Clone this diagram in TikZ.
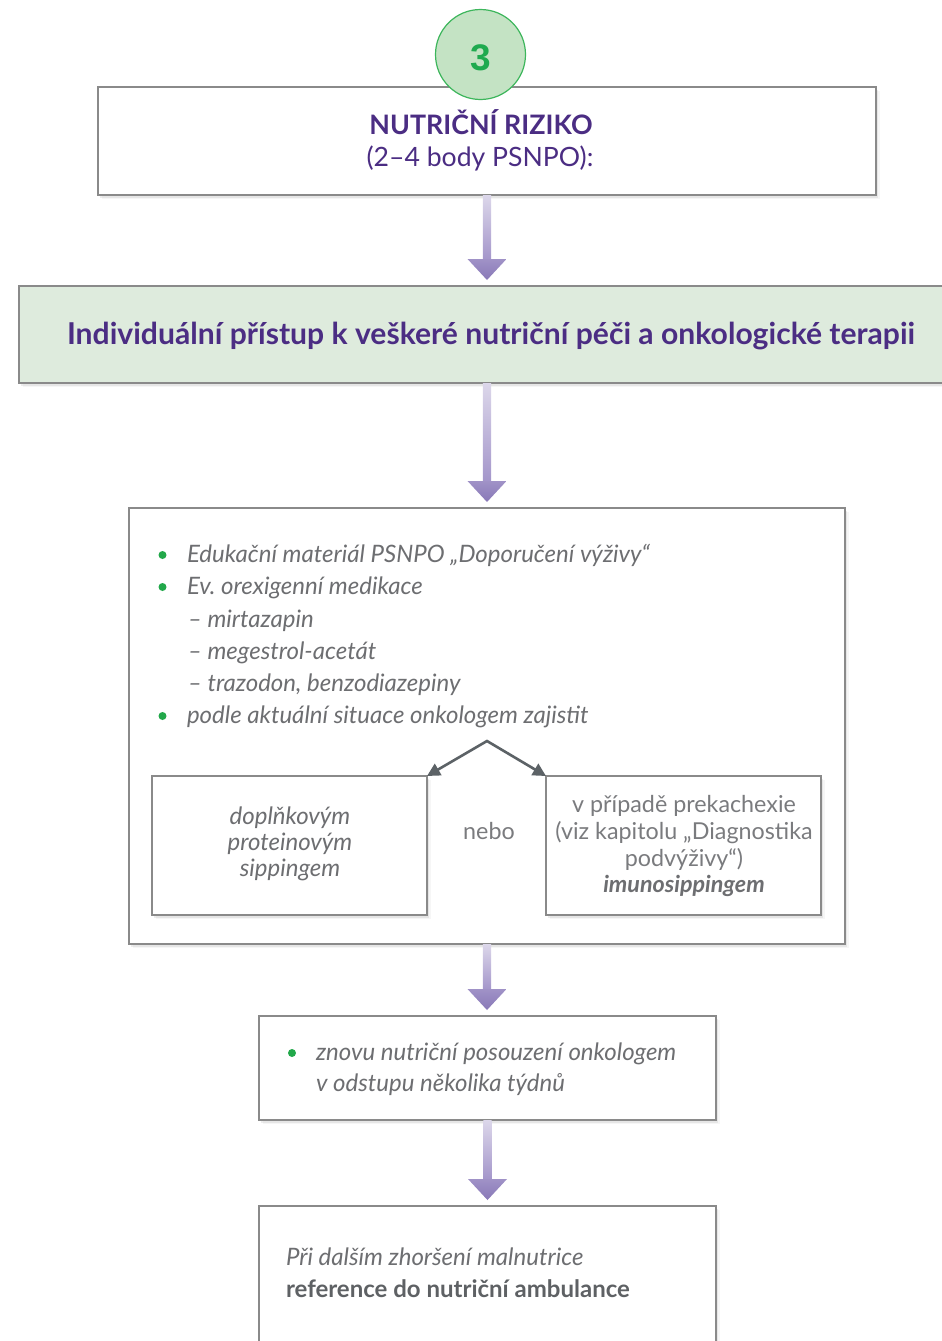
\documentclass[tikz,border=0pt]{standalone}
\usepackage{fontspec}
\setmainfont{Lato}
\newfontfamily\digitfont{Liberation Sans}
\usetikzlibrary{shadows,arrows.meta,calc}
\frenchspacing

\definecolor{pfpurple}{HTML}{4B2D83}
\definecolor{pfgray}{HTML}{6D6E71}
\definecolor{pflight}{HTML}{7A7B7E}
\definecolor{pfdark}{HTML}{5E6164}
\definecolor{pfframe}{HTML}{8A8A8A}
\definecolor{pfmint}{HTML}{DEEBDD}
\definecolor{pfgreen}{HTML}{1FAA4F}
\definecolor{pfdisc}{HTML}{C4E3C4}
\definecolor{pfring}{HTML}{3DB65C}
\definecolor{pfdot}{HTML}{22A84A}
\definecolor{arrtop}{HTML}{DCD7EA}
\definecolor{arrbot}{HTML}{A395CA}
\definecolor{headtop}{HTML}{A092C7}
\definecolor{headbot}{HTML}{8878B7}
\definecolor{forkgray}{HTML}{5C6266}

\newcommand\pfsize[2]{\fontsize{#1pt}{#2pt}\selectfont}

% thick shaded down arrow from one node border to the next
\newcommand\flowarrow[2]{%
  \path[shade, top color=arrtop, bottom color=arrbot]
    let \p1=(#1), \p2=(#2) in (\x1-4.2pt,\y1) rectangle (\x1+4.2pt,\y2+26pt);
  \path[shade, top color=headtop, bottom color=headbot]
    let \p1=(#1), \p2=(#2) in
    (\x1-19.5pt,\y2+27pt) -- (\x1+19.5pt,\y2+27pt) -- (\x1,\y2+6pt) -- cycle;
}

\tikzset{
  softshadow/.style={
    drop shadow={shadow xshift=2pt, shadow yshift=-2.5pt, opacity=.14},
    drop shadow={shadow xshift=3.5pt, shadow yshift=-4pt, opacity=.07}},
  box/.style={draw=pfframe, line width=1.2pt, fill=white, inner sep=0pt,
    outer sep=0pt, softshadow},
  txt/.style={inner sep=0pt, outer sep=0pt, text=pfgray,
    font=\pfsize{24}{28}\itshape, anchor=base west},
  ctxt/.style={txt, anchor=base},
  lite/.style={ctxt, font=\pfsize{23.3}{28}, text=pflight},
  dot/.style={circle, fill=pfdot, minimum size=8pt, inner sep=0pt},
  forkline/.style={draw=forkgray, line width=2.6pt, line join=miter,
    {Triangle[length=13pt,width=13pt]}-{Triangle[length=13pt,width=13pt]}}
}

\begin{document}
\begin{tikzpicture}[x=1pt,y=-1pt]
\useasboundingbox (0,0) rectangle (942,1341);

% header box with the step badge
\node[box, minimum width=778pt, minimum height=108pt] (b1) at (487,141) {};
\node[inner sep=0pt, font=\pfsize{26.8}{30}\bfseries, text=pfpurple, anchor=base]
  (t1a) at (481,134) {NUTRIČNÍ RIZIKO};
\node[inner sep=0pt, font=\pfsize{26.6}{30}, text=pfpurple, anchor=base]
  (t1b) at (480,166) {(2–4 body PSNPO):};
\node[circle, draw=pfring, line width=1.2pt, fill=pfdisc, minimum size=90pt,
  inner sep=0pt] (badge) at (480.5,54.5) {};
\node[inner sep=0pt, font=\digitfont\pfsize{37}{40}\bfseries, text=pfgreen,
  anchor=base] (num) at (480.5,70) {3};

% green banner
\node[box, fill=pfmint, minimum width=941pt, minimum height=97pt] (g) at (489.5,334.5) {};
\node[inner sep=0pt, font=\pfsize{30.1}{34}\bfseries, text=pfpurple, anchor=base]
  (gt) at (491,344) {Individuální přístup k veškeré nutriční péči a onkologické terapii};

% main recommendation box
\node[box, minimum width=716pt, minimum height=436pt] (b3) at (487,726) {};
\node[dot] (d1) at (162.5,555) {};
\node[txt] (l1) at (187,562) {Edukační materiál PSNPO „Doporučení výživy“};
\node[dot] (d2) at (162.5,587) {};
\node[txt] (l2) at (187,594) {Ev. orexigenní medikace};
\node[txt] (l3) at (188,627) {– mirtazapin};
\node[txt] (l4) at (188,659) {– megestrol-acetát};
\node[txt] (l5) at (188,691) {– trazodon, benzodiazepiny};
\node[dot] (d3) at (162.5,716) {};
\node[txt] (l6) at (187,723) {podle aktuální situace onkologem zajistit};

% the two alternatives
\node[box, minimum width=275pt, minimum height=139pt] (lb) at (289.5,845.5) {};
\node[box, minimum width=275pt, minimum height=139pt] (rb) at (683.5,845.5) {};
\node[ctxt] (lt1) at (290,824) {doplňkovým};
\node[ctxt] (lt2) at (290,850) {proteinovým};
\node[ctxt] (lt3) at (290,876) {sippingem};
\node[lite] (nebo) at (489,839) {nebo};
\node[lite] (rt1) at (684,812) {v případě prekachexie};
\node[lite] (rt2) at (684,839) {(viz kapitolu „Diagnostika};
\node[lite] (rt3) at (684,866) {podvýživy“)};
\node[ctxt, font=\pfsize{23.3}{28}\bfseries\itshape] (rt4) at (684,892) {imunosippingem};
\coordinate (fork) at (487,741);
\draw[forkline] (lb.north east) -- (fork) -- (rb.north west);

% follow-up box
\node[box, minimum width=457pt, minimum height=104pt] (b4) at (487.5,1068) {};
\node[dot] (d4) at (292,1053) {};
\node[txt] (f1) at (316,1060) {znovu nutriční posouzení onkologem};
\node[txt] (f2) at (316,1091) {v odstupu několika týdnů};

% referral box
\node[box, minimum width=457pt, minimum height=174pt] (b5) at (487.5,1293) {};
\node[txt] (r1) at (286,1265) {Při dalším zhoršení malnutrice};
\node[txt, font=\pfsize{24}{28}\bfseries, text=pfdark] (r2) at (286,1297) {reference do nutriční ambulance};

% flow arrows
\flowarrow{b1.south}{g.north -| b1.south}
\flowarrow{g.south -| b1.south}{b3.north}
\flowarrow{b3.south}{b4.north}
\flowarrow{b4.south}{b5.north}
\end{tikzpicture}
\end{document}
